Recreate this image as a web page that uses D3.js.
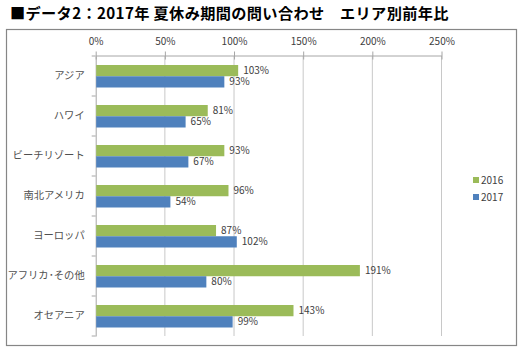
<!DOCTYPE html>
<html><head><meta charset="utf-8">
<script src="https://cdn.jsdelivr.net/npm/d3@7"></script>
<style>body{margin:0;background:#fff}svg{display:block}</style>
</head><body>
<svg id="c" width="524" height="351"></svg>
<script>
const title = "■データ2：2017年 夏休み期間の問い合わせ　エリア別前年比";
const categories = ["アジア","ハワイ","ビーチリゾート","南北アメリカ","ヨーロッパ","アフリカ･その他","オセアニア"];
const series = ["2016","2017"];
const values2016 = [103,81,93,96,87,191,143];
const values2017 = [93,65,67,54,102,80,99];
const tickValues = [0,50,100,150,200,250];
const colors = {"2016":"#9BBB59","2017":"#4F81BD"};

const svg = d3.select("#c");
const font = "'Noto Sans CJK JP','Noto Sans',sans-serif";

svg.append("text").attr("x",10).attr("y",19).attr("font-family",font)
  .attr("font-weight","bold").attr("font-size",15.2).attr("letter-spacing",0.35).attr("fill","#000").text(title);

svg.append("rect").attr("x",6.5).attr("y",29.5).attr("width",510).attr("height",316)
  .attr("fill","none").attr("stroke","#868686").attr("stroke-width",1.2);

const L=95.7, R=441.5, T=56, B=336;
const x = d3.scaleLinear().domain([0,250]).range([L,R]);
const y = d3.scaleBand().domain(categories).range([T,B]);
const inner = d3.scaleBand().domain(series).range([9,y.bandwidth()-8.5]);

// gridlines
svg.append("g").selectAll("line").data(tickValues.filter(d=>d>0)).join("line")
  .attr("x1",d=>x(d)).attr("x2",d=>x(d)).attr("y1",T).attr("y2",B)
  .attr("stroke","#c8c8c8").attr("stroke-width",1);

// top axis
const ax = svg.append("g").attr("transform",`translate(0,${T-0.5})`)
  .call(d3.axisTop(x).tickValues(tickValues).tickFormat(d=>d+"%").tickSize(4).tickSizeOuter(0));
ax.select(".domain").attr("stroke","#a6a6a6");
ax.selectAll(".tick line").attr("stroke","#a6a6a6").attr("y2",-4).attr("y1",4);
ax.selectAll(".tick text").attr("font-family",font).attr("font-size",10).attr("fill","#404040").attr("dy",-4);

// left category axis
const ay = svg.append("g").attr("transform",`translate(${L},0)`)
  .call(d3.axisLeft(y).tickSize(0).tickPadding(11));
ay.select(".domain").attr("stroke","#a6a6a6");
ay.selectAll(".tick text").attr("font-family",font).attr("font-size",10.3).attr("fill","#505050");
const bounds = categories.map(c=>y(c)).concat([B]);
svg.append("g").selectAll("line").data(bounds).join("line")
  .attr("x1",L-4).attr("x2",L).attr("y1",d=>d).attr("y2",d=>d).attr("stroke","#a6a6a6");

const rows = [];
categories.forEach((c,i)=>{
  rows.push({c, s:"2016", v:values2016[i]});
  rows.push({c, s:"2017", v:values2017[i]});
});

svg.append("g").selectAll("rect").data(rows).join("rect")
  .attr("x",L+0.5).attr("y",d=>y(d.c)+inner(d.s))
  .attr("width",d=>x(d.v)-L-0.5).attr("height",inner.bandwidth())
  .attr("fill",d=>colors[d.s]);

svg.append("g").selectAll("text").data(rows).join("text")
  .attr("x",d=>x(d.v)+5).attr("y",d=>y(d.c)+inner(d.s)+inner.bandwidth()/2)
  .attr("dy","0.35em").attr("font-family",font).attr("font-size",10).attr("fill","#404040")
  .text(d=>d.v+"%");

// legend
const lg = svg.append("g").selectAll("g").data(series).join("g")
  .attr("transform",(d,i)=>`translate(473,${180+i*17})`);
lg.append("rect").attr("x",0).attr("y",-3).attr("width",6).attr("height",6).attr("fill",d=>colors[d]);
lg.append("text").attr("x",8).attr("dy","0.35em").attr("font-family",font).attr("font-size",10).attr("fill","#404040").text(d=>d);
</script>
</body></html>
